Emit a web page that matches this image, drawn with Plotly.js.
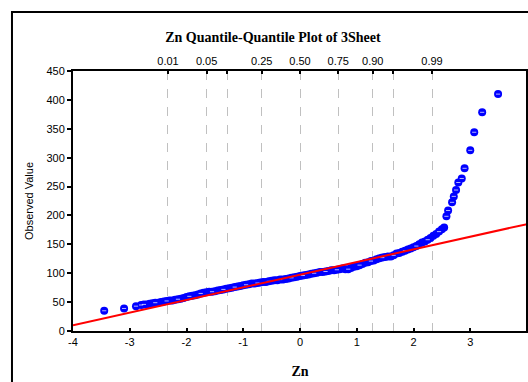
<!DOCTYPE html>
<html>
<head>
<meta charset="utf-8">
<script src="https://cdn.plot.ly/plotly-3.0.1.min.js"></script>
<style>html,body{margin:0;padding:0;background:#fff;}#chart{width:528px;height:382px;}</style>
</head>
<body>
<div id="chart"></div>
<script>
// Theoretical (normal) quantiles
var theoZ = [
 -3.45,-3.10,-2.89,-2.80,
 -2.75,-2.70,-2.65,-2.60,-2.55,-2.50,-2.45,-2.40,-2.35,-2.30,-2.25,-2.20,-2.15,-2.10,-2.05,-2.00,
 -1.95,-1.90,-1.85,-1.80,-1.75,-1.70,-1.65,-1.60,-1.55,-1.50,-1.45,-1.40,-1.35,-1.30,-1.25,-1.20,
 -1.15,-1.10,-1.05,-1.00,-0.95,-0.90,-0.85,-0.80,-0.75,-0.70,-0.65,-0.60,-0.55,-0.50,-0.45,-0.40,
 -0.35,-0.30,-0.25,-0.20,-0.15,-0.10,-0.05,0.00,0.05,0.10,0.15,0.20,0.25,0.30,0.35,0.40,0.45,0.50,
 0.55,0.60,0.65,0.70,0.75,0.80,0.85,0.90,0.95,1.00,1.05,1.10,1.15,1.20,1.25,1.30,1.35,1.40,1.45,
 1.50,1.55,1.60,1.65,1.70,1.75,1.80,1.85,1.90,1.95,2.00,2.05,2.10,2.15,2.20,2.25,2.30,2.35,2.40,
 2.45,2.50,2.54,
 2.58,2.61,2.68,2.71,2.75,2.79,2.85,2.90,3.00,3.07,3.21,3.49
];
var observed = [
 35,39,43,45,
 46,46,47,48,49,49,50,51,52,53,53,54,55,56,57,59,
 60,61,62,63,65,66,67,68,68,69,70,71,72,73,74,75,
 76,77,78,79,80,81,82,82,83,84,85,85,86,87,88,88,
 89,89,90,91,92,93,94,95,96,97,98,99,100,101,102,102,103,104,
 105,105,106,107,108,107,107,109,111,112,114,116,118,119,121,122,124,126,127,
 128,129,129,131,134,135,137,139,141,143,145,147,150,153,155,158,161,165,168,
 172,176,179,
 198.5,208.5,222.7,233,244,257,264,281.6,312.7,344,378.5,410
];
// Reference (fitted) line end points
var fitX = [-4, 4];
var fitY = [10, 185];
// Top axis: probability labels and their normal quantiles
var probLabels = ["0.01","0.05","","0.25","0.50","0.75","0.90","","0.99"];
var probZ = [-2.3263,-1.6449,-1.2816,-0.6745,0,0.6745,1.2816,1.6449,2.3263];
// Axis ticks
var xTickVals = [-4,-3,-2,-1,0,1,2,3,4];
var yTickVals = [0,50,100,150,200,250,300,350,400,450];

var sans = "Liberation Sans, Arial, sans-serif";
var serif = "Liberation Serif, Times New Roman, serif";

// white highlight dash: shown on isolated points, sparse within the dense band
var dashSizes = theoZ.map(function (z, i) {
  if (z < -2.78 || z > 2.55) return 3;
  return (i % 4 === 0) ? 3 : 0;
});

var data = [
  {x: theoZ, y: observed, type: "scatter", mode: "markers", xaxis: "x", yaxis: "y",
   marker: {color: "#0000FF", size: 8, line: {width: 0}}, hoverinfo: "skip", showlegend: false},
  {x: theoZ, y: observed, type: "scatter", mode: "markers", xaxis: "x", yaxis: "y",
   marker: {symbol: "line-ew", size: dashSizes, color: "#ffffff", line: {color: "#ffffff", width: 1}},
   hoverinfo: "skip", showlegend: false},
  {x: fitX, y: fitY, type: "scatter", mode: "lines", xaxis: "x2", yaxis: "y",
   line: {color: "#FF0000", width: 2}, hoverinfo: "skip", showlegend: false}
];

var layout = {
  width: 528, height: 382,
  margin: {l: 73, r: 1, t: 71, b: 51, pad: 0},
  paper_bgcolor: "#ffffff", plot_bgcolor: "#ffffff",
  showlegend: false,
  title: {text: "<b>Zn Quantile-Quantile Plot of 3Sheet</b>",
          font: {family: serif, size: 14, color: "#000"},
          x: 0.517, xanchor: "center", y: 0.903, yanchor: "middle", yref: "container"},
  xaxis: {range: [-4, 4], tickvals: xTickVals, ticktext: xTickVals.map(String),
          showgrid: false, zeroline: false, showline: true, linecolor: "#000", linewidth: 2,
          mirror: false, ticks: "inside", ticklen: 3, tickwidth: 2, tickcolor: "#000",
          tickfont: {family: sans, size: 11, color: "#000"},
          title: {text: "<b>Zn</b>", font: {family: serif, size: 14, color: "#000"}, standoff: 19}},
  xaxis2: {overlaying: "x", side: "top", range: [-4, 4], tickvals: probZ, ticktext: probLabels,
           showgrid: true, gridcolor: "#c0c0c0", griddash: "dash", gridwidth: 1,
           zeroline: false, showline: true, linecolor: "#000", linewidth: 2,
           ticks: "inside", ticklen: 3, tickwidth: 2, tickcolor: "#000",
           tickfont: {family: sans, size: 11, color: "#000"}},
  yaxis: {range: [0, 450], tickvals: yTickVals, ticktext: yTickVals.map(String),
          showgrid: false, zeroline: false, showline: true, linecolor: "#000", linewidth: 2,
          mirror: "ticks", ticks: "outside", ticklen: 4, tickwidth: 2, tickcolor: "#000",
          tickfont: {family: sans, size: 11, color: "#000"},
          title: {text: "Observed Value", font: {family: sans, size: 11, color: "#000"}, standoff: 11}},
  shapes: [
    {type: "rect", xref: "paper", yref: "paper", x0: -0.1344, x1: 1.03, y0: -0.25, y1: 1.2269,
     line: {color: "#000", width: 2}, fillcolor: "rgba(0,0,0,0)", layer: "above"},
    {type: "line", xref: "paper", yref: "paper", x0: 1, x1: 1, y0: 0, y1: 1,
     line: {color: "#000", width: 2}, layer: "above"}
  ]
};

Plotly.newPlot("chart", data, layout, {staticPlot: true, displayModeBar: false});
</script>
</body>
</html>
